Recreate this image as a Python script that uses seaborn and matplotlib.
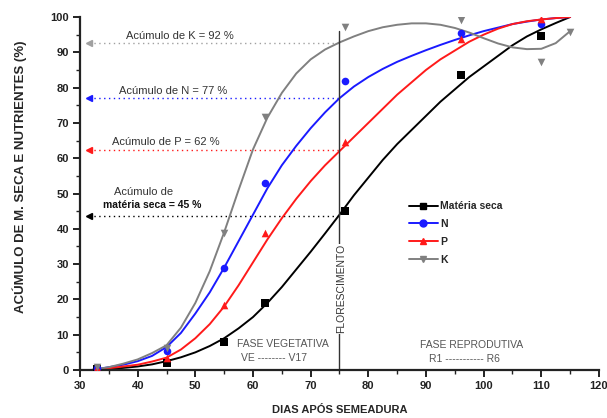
import matplotlib
matplotlib.use("Agg")
import matplotlib.pyplot as plt
import seaborn as sns
import pandas as pd
from matplotlib.lines import Line2D

sns.set_theme(style="white")
plt.rcParams['font.family'] = ['Liberation Sans', 'DejaVu Sans']

# observed points
days_obs = [33, 45, 55, 62, 76, 96, 110]
ms_obs = [0.3, 2.0, 8.0, 19.0, 45.0, 83.5, 94.5]
n_obs = [0.5, 5.5, 29.0, 53.0, 82.0, 95.5, 98.0]
p_obs = [0.7, 3.4, 18.5, 38.8, 64.6, 93.8, 99.3]
k_days = [33, 45, 55, 62, 76, 96, 110, 115]
k_obs = [0.8, 6.2, 38.8, 71.7, 97.2, 99.2, 87.3, 95.7]

# fitted curves
curve_days = [32, 35, 37.5, 40, 42.5, 45, 47.5, 50, 52.5, 55, 57.5, 60, 62.5, 65, 67.5, 70,
              72.5, 75, 77.5, 80, 82.5, 85, 87.5, 90, 92.5, 95, 97.5, 100, 102.5, 105,
              107.5, 110, 112.5, 115]
ms_fit = [0.0, 0.3, 0.6, 1.0, 1.6, 2.5, 3.6, 5.0, 6.8, 9.0, 11.8, 15.0, 19.0, 23.5, 28.5, 33.5,
          38.7, 44.0, 49.5, 54.5, 59.5, 64.0, 68.0, 72.0, 76.0, 79.5, 83.0, 86.0, 89.0, 92.0,
          94.5, 96.5, 98.3, 100.0]
n_fit = [0.0, 0.8, 1.5, 2.5, 4.0, 6.5, 10.5, 16.0, 22.0, 29.0, 36.5, 44.0, 51.5, 58.0, 63.5, 68.5,
         73.0, 77.0, 80.3, 83.0, 85.3, 87.3, 89.0, 90.6, 92.1, 93.5, 94.8, 96.0, 97.0, 98.0,
         98.7, 99.3, 99.7, 100.0]
p_fit = [0.0, 0.5, 1.0, 1.5, 2.4, 3.5, 5.8, 9.0, 13.0, 18.0, 24.0, 30.5, 37.0, 43.0, 48.5, 53.5,
         58.0, 62.0, 66.0, 70.0, 74.0, 78.0, 81.5, 85.0, 88.0, 90.5, 93.0, 95.0, 96.7, 98.0,
         98.8, 99.3, 99.7, 100.0]
k_fit = [0.0, 0.8, 1.8, 3.0, 4.8, 7.0, 12.0, 19.0, 28.0, 39.0, 51.0, 62.5, 71.5, 78.5, 84.0, 88.0,
         90.8, 92.8, 94.5, 96.0, 97.1, 97.8, 98.2, 98.2, 97.8, 96.9, 95.6, 94.0, 92.5, 91.4,
         90.9, 91.0, 92.6, 96.0]

series = ["Matéria seca", "N", "P", "K"]
colors = {"Matéria seca": "#000000", "N": "#1a1aff", "P": "#ff1a1a", "K": "#808080"}
markers = {"Matéria seca": "s", "N": "o", "P": "^", "K": "v"}

fit_df = pd.concat([
    pd.DataFrame({"dia": curve_days, "valor": v, "serie": s})
    for s, v in zip(series, [ms_fit, n_fit, p_fit, k_fit])
])
obs_df = pd.concat([
    pd.DataFrame({"dia": d, "valor": v, "serie": s})
    for s, d, v in zip(series, [days_obs, days_obs, days_obs, k_days], [ms_obs, n_obs, p_obs, k_obs])
])

fig = plt.figure(figsize=(6.07, 4.18), dpi=100)
ax = fig.add_axes([0.1318, 0.1148, 0.855, 0.8445])

sns.lineplot(data=fit_df, x="dia", y="valor", hue="serie", palette=colors,
             linewidth=1.4, legend=False, ax=ax, sort=True)
for s in series:
    sub = obs_df[obs_df.serie == s]
    sns.scatterplot(data=sub, x="dia", y="valor", color=colors[s], marker=markers[s],
                    s=30, edgecolor=colors[s], linewidth=0, ax=ax, legend=False, zorder=4)

# flowering line
ax.plot([75, 75], [0, 96], color="#333333", linewidth=1.0, zorder=2)
ax.text(75.3, 23, "FLORESCIMENTO", rotation=90, ha="center", va="center", fontsize=7.5,
        color="#333333", bbox=dict(facecolor="white", edgecolor="none", pad=0.3), zorder=3)

# reference lines
refs = [(92.5, "#a0a0a0"), (77, "#1a1aff"), (62.3, "#ff1a1a"), (43.5, "#000000")]
for y, c in refs:
    ax.plot([31.5, 75], [y, y], linestyle=(0, (1, 2.5)), color=c, linewidth=1.0, zorder=1)
    ax.plot([31.6], [y], marker="<", color=c, markersize=5, zorder=3)
ax.text(47.3, 94.5, "Acúmulo de K = 92 %", fontsize=8, ha="center", va="center", color="#333333")
ax.text(46.1, 79.0, "Acúmulo de N = 77 %", fontsize=8, ha="center", va="center", color="#333333")
ax.text(44.9, 64.6, "Acúmulo de P = 62 %", fontsize=8, ha="center", va="center", color="#333333")
ax.text(41.0, 50.4, "Acúmulo de", fontsize=8, ha="center", va="center", color="#333333")
ax.text(42.5, 46.8, "matéria seca = 45 %", fontsize=7.5, ha="center", va="center", color="#111111",
        fontweight="bold")

ax.text(65.2, 7.5, "FASE VEGETATIVA", fontsize=7.5, ha="center", va="center", color="#555555")
ax.text(63.6, 3.4, "VE -------- V17", fontsize=7.5, ha="center", va="center", color="#555555")
ax.text(97.9, 7.1, "FASE REPRODUTIVA", fontsize=7.5, ha="center", va="center", color="#555555")
ax.text(96.6, 3.1, "R1 ----------- R6", fontsize=7.5, ha="center", va="center", color="#555555")

ax.set_xlim(30, 120)
ax.set_ylim(0, 100)
ax.set_xticks(range(30, 121, 10))
ax.set_xticks(range(35, 120, 10), minor=True)
ax.set_yticks(range(0, 101, 10))
ax.set_yticks(range(5, 100, 10), minor=True)
for sp in ["top", "right"]:
    ax.spines[sp].set_visible(False)
for sp in ["left", "bottom"]:
    ax.spines[sp].set_linewidth(1.6)
    ax.spines[sp].set_color("#222222")
ax.tick_params(axis="both", which="major", direction="out", length=5, width=1.4,
               labelsize=8, colors="#222222", bottom=True, left=True, pad=3)
ax.tick_params(axis="both", which="minor", direction="out", length=3, width=1.0,
               colors="#222222", bottom=True, left=True)
for lab in ax.get_xticklabels() + ax.get_yticklabels():
    lab.set_fontweight("bold")

ax.set_xlabel("DIAS APÓS SEMEADURA", fontsize=8, fontweight="bold", labelpad=10)
ax.set_ylabel("ACÚMULO DE M. SECA E NUTRIENTES (%)", fontsize=9.5, fontweight="bold")
ax.yaxis.set_label_coords(-0.102, 0.547)

handles = [Line2D([0], [0], color=colors[s], marker=markers[s], markersize=5, linewidth=1.4)
           for s in series]
leg = ax.legend(handles, series, loc="upper left", bbox_to_anchor=(0.625, 0.49), frameon=False,
                fontsize=7.5, handlelength=2.8, handletextpad=0.2, labelspacing=0.75,
                borderaxespad=0)
for t in leg.get_texts():
    t.set_fontweight("bold")

fig.savefig("out.png", dpi=100)
